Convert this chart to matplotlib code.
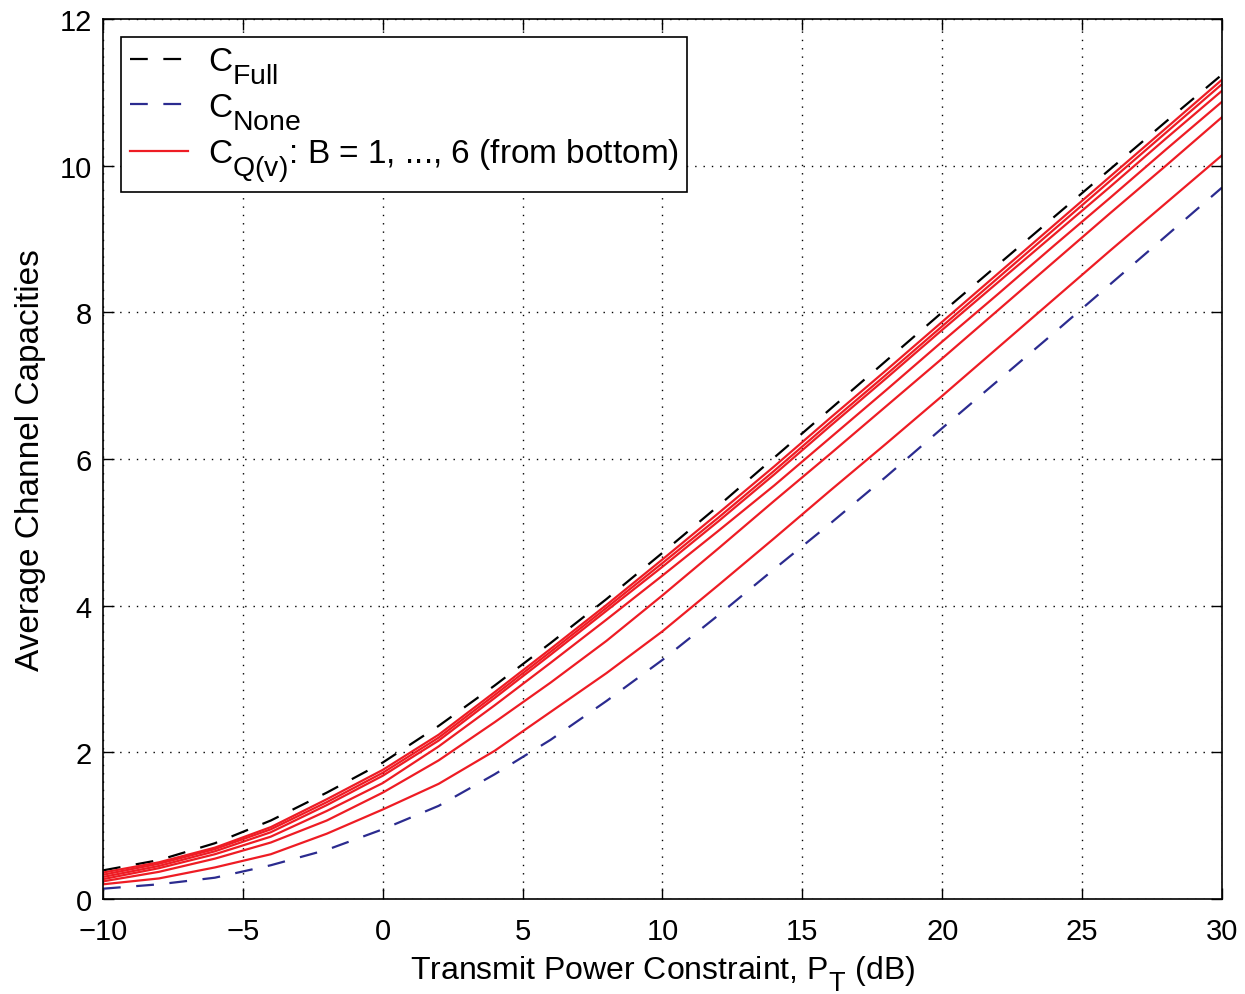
import matplotlib
matplotlib.use('Agg')
import matplotlib.pyplot as plt
import matplotlib._mathtext as mt

# transmit power (dB)
pt_db = [-10, -8, -6, -4, -2, 0, 2, 4, 6, 8, 10, 12, 14, 16, 18, 20, 22, 24, 26, 28, 30]

c_full = [0.39, 0.53, 0.76, 1.07, 1.45, 1.86, 2.36, 2.91, 3.49, 4.09, 4.72, 5.36, 6.02,
          6.68, 7.34, 8.00, 8.65, 9.30, 9.95, 10.60, 11.24]
c_none = [0.14, 0.20, 0.29, 0.46, 0.67, 0.95, 1.27, 1.70, 2.17, 2.70, 3.26, 3.87, 4.50,
          5.12, 5.76, 6.42, 7.07, 7.72, 8.38, 9.04, 9.70]

# C_Q(v), B = 1..6 (from bottom)
c_q = [
    [0.20, 0.28, 0.43, 0.61, 0.89, 1.22, 1.57, 2.02, 2.55, 3.08, 3.65, 4.28, 4.92,
     5.57, 6.21, 6.86, 7.52, 8.18, 8.84, 9.49, 10.14],
    [0.24, 0.37, 0.55, 0.77, 1.07, 1.45, 1.89, 2.41, 2.95, 3.52, 4.14, 4.78, 5.43,
     6.07, 6.72, 7.37, 8.03, 8.69, 9.35, 10.00, 10.66],
    [0.27, 0.42, 0.61, 0.85, 1.20, 1.58, 2.08, 2.64, 3.22, 3.81, 4.41, 5.02, 5.64,
     6.29, 6.94, 7.60, 8.25, 8.91, 9.56, 10.22, 10.87],
    [0.30, 0.45, 0.65, 0.91, 1.28, 1.68, 2.16, 2.74, 3.33, 3.93, 4.53, 5.15, 5.79,
     6.45, 7.10, 7.76, 8.41, 9.06, 9.71, 10.37, 11.02],
    [0.33, 0.48, 0.68, 0.95, 1.32, 1.72, 2.20, 2.78, 3.37, 3.97, 4.58, 5.20, 5.84,
     6.50, 7.15, 7.81, 8.47, 9.13, 9.79, 10.45, 11.11],
    [0.36, 0.50, 0.70, 0.98, 1.36, 1.76, 2.24, 2.82, 3.41, 4.01, 4.63, 5.26, 5.90,
     6.56, 7.21, 7.87, 8.53, 9.19, 9.85, 10.51, 11.17],
]

plt.rcParams['font.family'] = ['Liberation Sans', 'DejaVu Sans']
plt.rcParams['mathtext.fontset'] = 'custom'
plt.rcParams['mathtext.rm'] = 'Liberation Sans'
plt.rcParams['mathtext.it'] = 'Liberation Sans'
# matlab style subscripts: bigger and lower
mt.SHRINK_FACTOR = 0.85
mt.FontConstantsBase.sub1 = 0.75

fig = plt.figure(figsize=(12.45, 9.95), dpi=100)
ax = fig.add_axes([0.0827, 0.0955, 0.8988, 0.8845])

ax.plot(pt_db, c_full, color='k', lw=1.6, dashes=(8, 7), label=r'C$_{\mathrm{Full}}$')
ax.plot(pt_db, c_none, color='#2b2b8f', lw=1.6, dashes=(8, 7), label=r'C$_{\mathrm{None}}$')
for i, cq in enumerate(c_q):
    lbl = r'C$_{\mathrm{Q(v)}}$: B = 1, ..., 6 (from bottom)' if i == 0 else '_nolegend_'
    ax.plot(pt_db, cq, color='#ee1c24', lw=1.6, label=lbl)

ax.set_xlim(-10, 30)
ax.set_ylim(0, 12)
ax.set_xticks(range(-10, 31, 5))
ax.set_yticks(range(0, 13, 2))
ax.set_xticklabels(['\u221210', '\u22125', '0', '5', '10', '15', '20', '25', '30'])
ax.tick_params(direction='in', labelsize=21, length=8, width=1, top=True, right=True)
ax.tick_params(axis='x', pad=13)
ax.tick_params(axis='y', pad=8)
ax.grid(True, color='k', linestyle=(0, (1, 5)), linewidth=1)
for s in ax.spines.values():
    s.set_linewidth(1.2)

ax.set_xlabel(r'Transmit Power Constraint, P$_{\mathrm{T}}$ (dB)', fontsize=23, labelpad=6)
ax.set_ylabel('Average Channel Capacities', fontsize=24, labelpad=10)

leg = ax.legend(loc='upper left', fontsize=24, fancybox=False, edgecolor='k',
                framealpha=1, handlelength=1.75, handletextpad=0.6, borderaxespad=0.55,
                labelspacing=0.15, borderpad=0.25)
leg.get_frame().set_linewidth(1.2)

fig.savefig('out.png', dpi=100)
